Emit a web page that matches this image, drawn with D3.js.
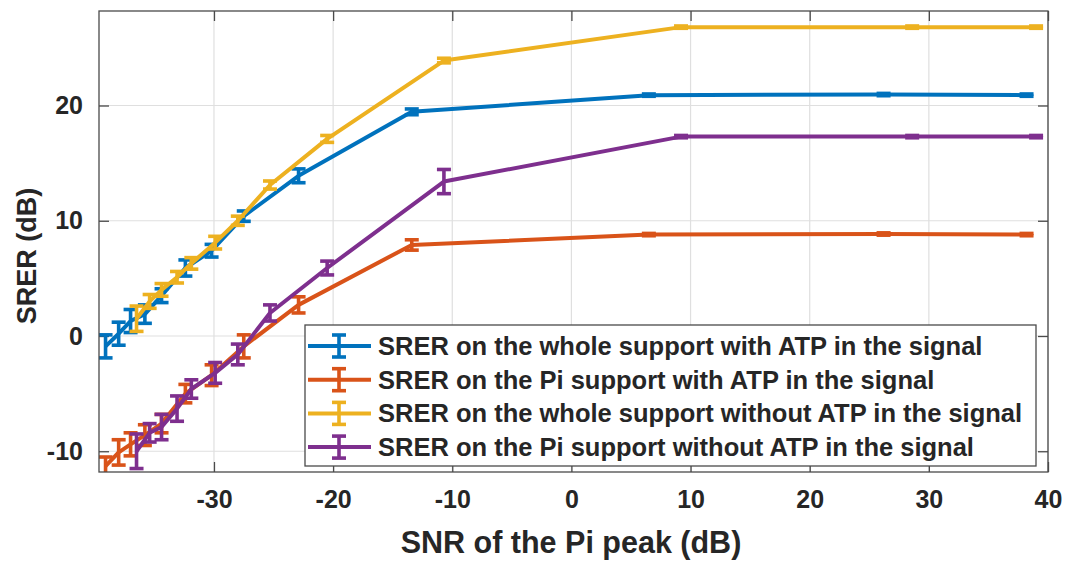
<!DOCTYPE html>
<html>
<head>
<meta charset="utf-8">
<script src="https://cdn.jsdelivr.net/npm/d3@7"></script>
<style>
  html, body { margin: 0; padding: 0; background: #ffffff; }
  svg { display: block; }
</style>
</head>
<body>
<svg id="chart" width="1066" height="561"></svg>
<script>
// SNR of the Pi peak (dB) at which each configuration was evaluated
const snrWithATP    = [-39.1, -38.0, -37.0, -35.8, -34.4, -32.4, -30.2, -27.5, -22.9, -13.4, 6.5, 26.2, 38.2];
const snrWithoutATP = [-36.5, -35.4, -34.4, -33.1, -31.9, -29.9, -28.0, -25.3, -20.5, -10.7, 9.2, 28.6, 39.0];

// Mean SRER (dB) and error half-widths for each series
const wholeWithATP       = [-0.9, 0.2, 1.3, 1.9, 3.5, 5.9, 7.4, 10.4, 13.9, 19.45, 20.9, 20.95, 20.9];
const wholeWithATPErr    = [1.0, 1.0, 1.0, 0.8, 0.6, 0.7, 0.55, 0.45, 0.6, 0.25, 0.1, 0.1, 0.1];

const piWithATP          = [-11.3, -10.1, -9.4, -8.6, -7.6, -5.0, -3.4, -0.9, 2.7, 7.9, 8.8, 8.85, 8.8];
const piWithATPErr       = [0.8, 1.1, 1.0, 0.9, 0.8, 0.8, 0.9, 1.0, 0.7, 0.45, 0.1, 0.1, 0.1];

const wholeWithoutATP    = [1.5, 3.0, 4.0, 5.1, 6.3, 8.1, 10.0, 13.1, 17.1, 23.9, 26.8, 26.8, 26.8];
const wholeWithoutATPErr = [1.1, 0.6, 0.55, 0.5, 0.5, 0.55, 0.4, 0.35, 0.3, 0.2, 0.1, 0.1, 0.1];

const piWithoutATP       = [-10.0, -8.4, -7.9, -6.3, -4.6, -3.2, -1.6, 2.0, 5.9, 13.4, 17.3, 17.3, 17.3];
const piWithoutATPErr    = [1.5, 0.8, 1.1, 1.1, 0.8, 0.9, 0.9, 0.7, 0.6, 1.05, 0.1, 0.1, 0.1];

const seriesNames = [
  "SRER on the whole support with ATP in the signal",
  "SRER on the Pi support with ATP in the signal",
  "SRER on the whole support without ATP in the signal",
  "SRER on the Pi support without ATP in the signal"
];
const seriesColors = ["#0072BD", "#D95319", "#EDB120", "#7E2F8E"];

const xTicks = [-30, -20, -10, 0, 10, 20, 30, 40];
const yTicks = [-10, 0, 10, 20];

const xLabel = "SNR of the Pi peak (dB)";
const yLabel = "SRER (dB)";

// ---- layout ----
const plot = { left: 99, right: 1048, top: 11, bottom: 472 };

const svg = d3.select("#chart");
const font = "'Liberation Sans', Arial, Helvetica, sans-serif";
const textColor = "#262626";

const x = d3.scaleLinear().domain([-39.65, 40]).range([plot.left, plot.right]);
const y = d3.scaleLinear().domain([-11.8, 28.2]).range([plot.bottom, plot.top]);

const series = [
  { xs: snrWithATP,    ys: wholeWithATP,    es: wholeWithATPErr },
  { xs: snrWithATP,    ys: piWithATP,       es: piWithATPErr },
  { xs: snrWithoutATP, ys: wholeWithoutATP, es: wholeWithoutATPErr },
  { xs: snrWithoutATP, ys: piWithoutATP,    es: piWithoutATPErr }
].map((s, i) => ({
  name: seriesNames[i],
  color: seriesColors[i],
  points: s.xs.map((v, j) => ({ x: v, y: s.ys[j], e: s.es[j] }))
}));

// ---- grid ----
const grid = svg.append("g").attr("class", "grid");
grid.selectAll("line.gx").data(xTicks).join("line")
  .attr("x1", d => x(d)).attr("x2", d => x(d))
  .attr("y1", plot.top).attr("y2", plot.bottom)
  .attr("stroke", "#dfdfdf").attr("stroke-width", 1.2);
grid.selectAll("line.gy").data(yTicks).join("line")
  .attr("y1", d => y(d)).attr("y2", d => y(d))
  .attr("x1", plot.left).attr("x2", plot.right)
  .attr("stroke", "#dfdfdf").attr("stroke-width", 1.2);

// ---- axes (ticks point inward, box on all four sides) ----
const tickLen = 10;
const axisColor = "#4a4a4a";
const plainNumber = d => String(d);

const xAxisBottom = d3.axisBottom(x).tickValues(xTicks).tickSize(-tickLen).tickPadding(18)
  .tickFormat(plainNumber);
const xAxisTop = d3.axisTop(x).tickValues(xTicks).tickSize(-tickLen).tickFormat("");
const yAxisLeft = d3.axisLeft(y).tickValues(yTicks).tickSize(-tickLen).tickPadding(16)
  .tickFormat(plainNumber);
const yAxisRight = d3.axisRight(y).tickValues(yTicks).tickSize(-tickLen).tickFormat("");

function styleAxis(g) {
  g.select(".domain").remove();
  g.selectAll(".tick line").attr("stroke", axisColor).attr("stroke-width", 1.3);
  g.selectAll(".tick text")
    .attr("fill", textColor)
    .style("font-family", font)
    .style("font-weight", "bold")
    .style("font-size", "25px");
}

svg.append("g").attr("transform", `translate(0,${plot.bottom})`).call(xAxisBottom).call(styleAxis);
svg.append("g").attr("transform", `translate(0,${plot.top})`).call(xAxisTop).call(styleAxis);
svg.append("g").attr("transform", `translate(${plot.left},0)`).call(yAxisLeft).call(styleAxis);
svg.append("g").attr("transform", `translate(${plot.right},0)`).call(yAxisRight).call(styleAxis);

// ---- data ----
svg.append("clipPath").attr("id", "plot-clip")
  .append("rect")
  .attr("x", plot.left).attr("y", plot.top)
  .attr("width", plot.right - plot.left).attr("height", plot.bottom - plot.top);

const dataLayer = svg.append("g").attr("clip-path", "url(#plot-clip)");
const line = d3.line().x(d => x(d.x)).y(d => y(d.y));
const capHalf = 7;
const lineWidth = 4;
const barWidth = 3.6;

series.forEach(s => {
  const g = dataLayer.append("g");
  g.append("path").datum(s.points)
    .attr("d", line)
    .attr("fill", "none")
    .attr("stroke", s.color)
    .attr("stroke-width", lineWidth)
    .attr("stroke-linejoin", "round");

  const bars = g.selectAll("g.bar").data(s.points).join("g").attr("class", "bar")
    .attr("stroke", s.color).attr("stroke-width", barWidth);
  bars.append("line")
    .attr("x1", d => x(d.x)).attr("x2", d => x(d.x))
    .attr("y1", d => y(d.y - d.e)).attr("y2", d => y(d.y + d.e));
  bars.append("line")
    .attr("x1", d => x(d.x) - capHalf).attr("x2", d => x(d.x) + capHalf)
    .attr("y1", d => y(d.y + d.e)).attr("y2", d => y(d.y + d.e));
  bars.append("line")
    .attr("x1", d => x(d.x) - capHalf).attr("x2", d => x(d.x) + capHalf)
    .attr("y1", d => y(d.y - d.e)).attr("y2", d => y(d.y - d.e));
});

// ---- box outline ----
svg.append("rect")
  .attr("x", plot.left).attr("y", plot.top)
  .attr("width", plot.right - plot.left).attr("height", plot.bottom - plot.top)
  .attr("fill", "none").attr("stroke", axisColor).attr("stroke-width", 1.3);

// ---- axis labels ----
svg.append("text")
  .attr("x", 571)
  .attr("y", 553)
  .attr("text-anchor", "middle")
  .attr("fill", textColor)
  .style("font-family", font).style("font-weight", "bold").style("font-size", "30.5px")
  .text(xLabel);

svg.append("text")
  .attr("transform", `translate(36,256) rotate(-90)`)
  .attr("text-anchor", "middle")
  .attr("fill", textColor)
  .style("font-family", font).style("font-weight", "bold").style("font-size", "27px")
  .text(yLabel);

// ---- legend ----
const legend = { left: 305, top: 325, width: 731, height: 141, rowStart: 346, rowStep: 33.7 };
const lg = svg.append("g");
lg.append("rect")
  .attr("x", legend.left).attr("y", legend.top)
  .attr("width", legend.width).attr("height", legend.height)
  .attr("fill", "#ffffff").attr("stroke", axisColor).attr("stroke-width", 1.3);

series.forEach((s, i) => {
  const cy = legend.rowStart + i * legend.rowStep;
  const row = lg.append("g").attr("stroke", s.color);
  row.append("line").attr("x1", legend.left + 3).attr("x2", legend.left + 66)
    .attr("y1", cy).attr("y2", cy).attr("stroke-width", lineWidth);
  const bx = legend.left + 34;
  row.append("line").attr("x1", bx).attr("x2", bx).attr("y1", cy - 11).attr("y2", cy + 11).attr("stroke-width", barWidth);
  row.append("line").attr("x1", bx - capHalf).attr("x2", bx + capHalf).attr("y1", cy - 11).attr("y2", cy - 11).attr("stroke-width", barWidth);
  row.append("line").attr("x1", bx - capHalf).attr("x2", bx + capHalf).attr("y1", cy + 11).attr("y2", cy + 11).attr("stroke-width", barWidth);
  lg.append("text")
    .attr("x", legend.left + 73).attr("y", cy + 9)
    .attr("fill", textColor)
    .style("font-family", font).style("font-weight", "bold").style("font-size", "25.5px")
    .text(s.name);
});
</script>
</body>
</html>
